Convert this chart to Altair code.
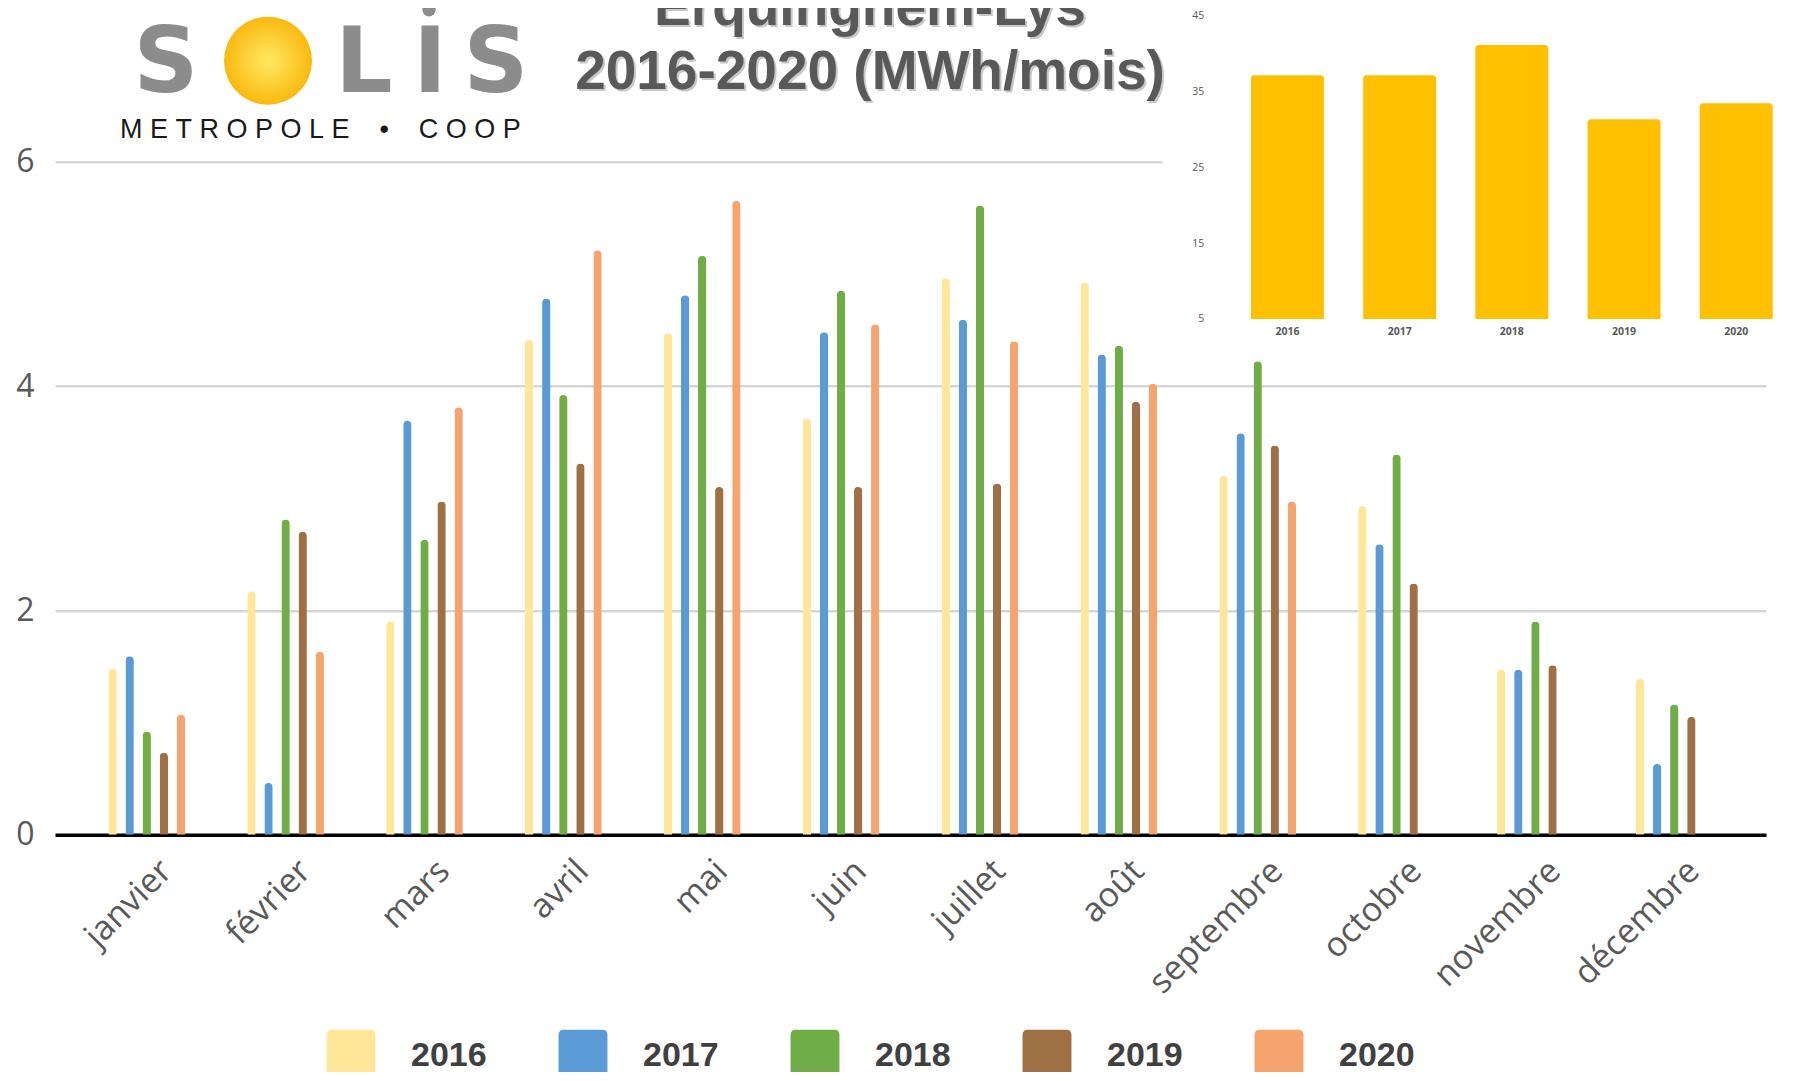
import altair as alt
import pandas as pd

# ---------------- data ----------------
months = ["janvier", "février", "mars", "avril", "mai", "juin", "juillet",
          "août", "septembre", "octobre", "novembre", "décembre"]
years = ["2016", "2017", "2018", "2019", "2020"]
prod_2016 = [1.48, 2.17, 1.90, 4.41, 4.47, 3.71, 4.96, 4.92, 3.20, 2.93, 1.47, 1.39]
prod_2017 = [1.59, 0.46, 3.69, 4.78, 4.81, 4.48, 4.59, 4.28, 3.58, 2.59, 1.47, 0.63]
prod_2018 = [0.92, 2.81, 2.63, 3.92, 5.16, 4.85, 5.61, 4.36, 4.22, 3.39, 1.90, 1.16]
prod_2019 = [0.73, 2.70, 2.97, 3.31, 3.10, 3.10, 3.13, 3.86, 3.47, 2.24, 1.51, 1.05]
prod_2020 = [1.07, 1.63, 3.81, 5.21, 5.65, 4.55, 4.40, 4.02, 2.97, None, None, None]
year_colors = ["#FFE699", "#5B9BD5", "#70AD47", "#9E7043", "#F4A46C"]
main_ticks = [0, 2, 4, 6]

annual_years = ["2016", "2017", "2018", "2019", "2020"]
annual_totals = [37.1, 37.1, 41.1, 31.3, 33.4]
inset_ticks = [5, 15, 25, 35, 45]

title_lines = ["Erquinghem-Lys", "2016-2020 (MWh/mois)"]
NB = "\u00a0"
logo_tagline = NB.join("METROPOLE") + NB * 4 + "•" + NB * 4 + NB.join("COOP")

series = [prod_2016, prod_2017, prod_2018, prod_2019, prod_2020]
rows = []
for y, vals in zip(years, series):
    for m, v in zip(months, vals):
        if v is not None:
            rows.append({"mois": m, "année": y, "MWh": v})
df = pd.DataFrame(rows)
df_annual = pd.DataFrame({"année": annual_years, "total": annual_totals})

W, H = 1711, 673
GRAY = "#595959"

# ---------------- main grouped bars ----------------
main = alt.Chart(df).mark_bar(cornerRadiusEnd=4).encode(
    x=alt.X("mois:N", sort=months, title=None,
            scale=alt.Scale(paddingInner=0.385, paddingOuter=0.353),
            axis=alt.Axis(orient="bottom", labelAngle=315, labelAlign="right",
                          labelBaseline="middle", labelFont="Open Sans",
                          labelFontSize=34, labelColor=GRAY, labelPadding=31,
                          labelOffset=20, ticks=False, domainColor="#000000",
                          domainWidth=3.5, grid=False)),
    xOffset=alt.XOffset("année:N", sort=years,
                        scale=alt.Scale(paddingInner=0.51, paddingOuter=0.255)),
    y=alt.Y("MWh:Q", title=None,
            scale=alt.Scale(domain=[0, 6], nice=False),
            axis=alt.Axis(orient="left", values=main_ticks, domain=False, ticks=False,
                          labelFont="Open Sans", labelFontSize=32, labelColor=GRAY,
                          labelPadding=21, gridColor="#D6D6D6", gridWidth=2.5,
                          gridDash={"condition": {"test": "datum.value === 6",
                                                  "value": [1107, 3000]},
                                    "value": [1, 0]})),
    color=alt.Color("année:N", sort=years,
                    scale=alt.Scale(domain=years, range=year_colors),
                    legend=alt.Legend(
                        title=None, orient="none", direction="horizontal",
                        legendX=270, legendY=868,
                        symbolType="M-0.94,-0.8 Q-0.94,-1 -0.74,-1 L0.74,-1 Q0.94,-1 0.94,-0.8 L0.94,0.8 Q0.94,1 0.74,1 L-0.74,1 Q-0.94,1 -0.94,0.8 Z",
                        symbolSize=2704, symbolStrokeWidth=0, symbolOpacity=1,
                        labelFont="Liberation Sans", labelFontWeight="bold",
                        labelFontSize=34, labelColor="#404040", labelOffset=34,
                        columnPadding=70, padding=0)),
)

# ---------------- inset: annual totals ----------------
inset = alt.Chart(df_annual).mark_bar(color="#FFC000", cornerRadiusTopLeft=3,
                                       cornerRadiusTopRight=3).encode(
    x=alt.X("année:N", sort=annual_years, title=None,
            scale=alt.Scale(range=[1156.7, 1757], paddingInner=0.35, paddingOuter=0.35),
            axis=alt.Axis(orient="bottom", offset=-515.7, domain=False, ticks=False,
                          grid=False, labelAngle=0, labelFont="Open Sans",
                          labelFontWeight="bold", labelFontSize=10.5,
                          labelColor=GRAY, labelPadding=8)),
    y=alt.Y("total:Q", title=None,
            scale=alt.Scale(domain=[5, 45], nice=False, zero=False,
                            range=[157.3, -146.4]),
            axis=alt.Axis(orient="left", offset=-1156.7, values=inset_ticks,
                          domain=False, ticks=False, labelFont="Open Sans",
                          labelFontSize=10.5, labelColor=GRAY, labelPadding=8,
                          gridColor="#D9D9D9", gridWidth=1.2)),
    y2=alt.datum(5),
)

# ---------------- annotations: logo & title ----------------
one = alt.Data(values=[{}])


def txt(text, x, y, **kw):
    return alt.Chart(one).mark_text(text=text, **kw).encode(
        x=alt.value(x), y=alt.value(y))


sun = alt.Chart(one).mark_point(
    shape="circle", filled=True, size=7744, opacity=1,
    color=alt.Gradient(gradient="radial", x1=0.5, y1=0.5, r1=0.05, x2=0.5, y2=0.5, r2=0.5,
                       stops=[alt.GradientStop(offset=0, color="#FFE45C"),
                              alt.GradientStop(offset=1, color="#F9B90F")]),
).encode(x=alt.value(213), y=alt.value(-101))

idot = alt.Chart(one).mark_point(shape="circle", filled=True, size=180,
                                 color="#8C8C8C", opacity=1).encode(
    x=alt.value(374), y=alt.value(-152))

logo_font = dict(font="DejaVu Sans", fontWeight="bold", fontSize=90,
                 color="#8C8C8C", align="center", baseline="alphabetic")
logo = [
    txt("S", 111, -69.7, **logo_font),
    sun,
    txt("L", 309, -69.7, **logo_font),
    txt("I", 375, -69.7, **logo_font),
    idot,
    txt("S", 441, -69.7, **logo_font),
    txt(logo_tagline, 65, -23.7, font="Liberation Sans", fontSize=27,
        color="#1A1A1A", align="left", baseline="alphabetic"),
]

title_font = dict(font="Liberation Sans", fontWeight="bold", fontSize=55,
                  align="center", baseline="alphabetic")
title = [
    txt(title_lines[0], 817, -134.7, color="#C8C8C8", **title_font),
    txt(title_lines[1], 817, -70.2, color="#C8C8C8", **title_font),
    txt(title_lines[0], 815, -136.7, color=GRAY, **title_font),
    txt(title_lines[1], 815, -72.2, color=GRAY, **title_font),
]

chart = alt.layer(main, inset, *logo, *title).resolve_scale(
    x="independent", y="independent"
).resolve_axis(
    x="independent", y="independent"
).properties(
    width=W, height=H,
    autosize=alt.AutoSizeParams(type="none"),
    padding={"left": 47, "top": 153.7, "right": 20, "bottom": 237},
    background="white",
).configure_view(stroke=None)

chart.save("out.html", embed_options={"renderer": "svg", "actions": False})
